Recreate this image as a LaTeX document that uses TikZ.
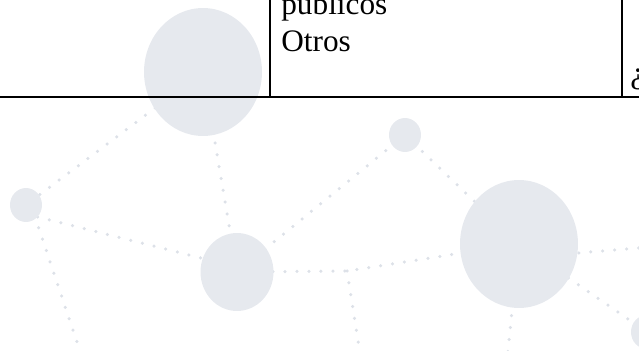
\documentclass[tikz,border=0pt]{standalone}
\usepackage{fontspec}
\setmainfont{Liberation Serif}
\usepackage{tikz}
\usetikzlibrary{calc, shapes.geometric, backgrounds}
\definecolor{bubble}{HTML}{E6E9EE}
\definecolor{dotgray}{HTML}{DDE1E8}
\tikzstyle{bigbubble} = [ellipse, fill=bubble, draw=none, minimum width=2.36cm, minimum height=2.56cm, inner sep=0pt]
\tikzstyle{midbubble} = [ellipse, fill=bubble, draw=none, minimum width=1.46cm, minimum height=1.56cm, inner sep=0pt]
\tikzstyle{smallbubble} = [ellipse, fill=bubble, draw=none, minimum width=0.64cm, minimum height=0.68cm, inner sep=0pt]
\tikzstyle{dotline} = [dotgray, line width=0.07cm, line cap=round, dash pattern=on 0pt off 0.24cm]
\tikzstyle{rule} = [black, line width=0.04cm]
\tikzstyle{celltext} = [anchor=base west, inner sep=0pt, font=\fontsize{17.8}{22}\selectfont]

\begin{document}
\begin{tikzpicture}[x=0.02cm, y=-0.02cm]

        \useasboundingbox (0,0) rectangle (639,351);

        % bubbles
        \node (hubtop) [bigbubble] at (203,72) {};
        \node (hubright) [bigbubble] at (519,244) {};
        \node (middle) [midbubble] at (237,272) {};
        \node (west) [smallbubble] at (26,205) {};
        \node (peak) [smallbubble] at (405,135) {};
        \node (corner) [smallbubble] at (647,332) {};

        \coordinate (junction) at (347,271);
        \coordinate (westend) at (83,360);
        \coordinate (junctionend) at (361,360);
        \coordinate (hubend) at (507,360);
        \coordinate (rightend) at (650,247);

        % dotted links
        \begin{scope}[on background layer]
        \draw[dotline] (hubtop.center) -- (west.center);
        \draw[dotline] (hubtop.center) -- (middle.center);
        \draw[dotline] ($(west.center)+(0,9)$) -- ($(middle.center)+(0,-5)$);
        \draw[dotline] ($(west.center)+(5,0)$) -- (westend);
        \draw[dotline] (middle.center) -- (peak.center);
        \draw[dotline] (middle.center) -- (junction) -- (hubright.center);
        \draw[dotline] (junction) -- (junctionend);
        \draw[dotline] (peak.center) -- (hubright.center);
        \draw[dotline] (hubright.center) -- (hubend);
        \draw[dotline] ($(hubright.center)+(0,14)$) -- (rightend);
        \draw[dotline] (hubright.center) -- (corner.center);
        \end{scope}

        % table
        \coordinate (ruleleft) at (0,97);
        \coordinate (ruleright) at (639,97);
        \coordinate (colone) at (270,-2);
        \coordinate (coltwo) at (622,-2);
        \draw[rule] (ruleleft) -- (ruleright);
        \draw[rule] (colone) -- (colone |- ruleleft);
        \draw[rule] (coltwo) -- (coltwo |- ruleleft);

        \node (publicos) [celltext] at (281,15) {públicos};
        \node (otros) [celltext] at (281,52) {Otros};
        \node (pregunta) [celltext] at (630,84) {¿};

    \end{tikzpicture}
\end{document}
